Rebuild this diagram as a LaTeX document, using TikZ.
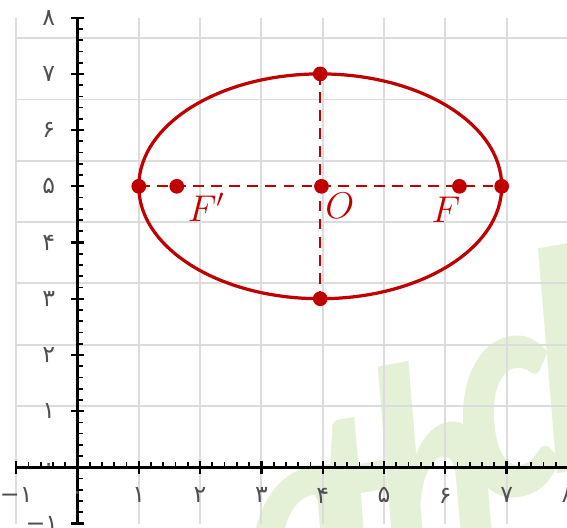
\documentclass[tikz,border=0pt]{standalone}
\usepackage{fontspec}
\usepackage{graphicx}
\newfontfamily\fa{DejaVu Sans}
\newfontfamily\wmfont{Lato}[BoldItalicFont={Lato Black Italic}]
\definecolor{ered}{RGB}{192,0,0}
\definecolor{wmc}{RGB}{229,241,214}
\definecolor{lblc}{RGB}{80,80,80}
\definecolor{gridc}{RGB}{220,220,220}
\tikzset{
  gridline/.style={gridc, line width=0.9pt},
  axisline/.style={black, line width=1.3pt},
  majortick/.style={black, line width=1.1pt},
  minortick/.style={black, line width=0.8pt},
  lab/.style={text=lblc, font=\fa\fontsize{11}{12}\selectfont, inner sep=0pt},
  ellline/.style={ered, line width=1.5pt},
  dashline/.style={ered, line width=1pt, dash pattern=on 5pt off 3.4pt},
  pdot/.style={circle, fill=ered, inner sep=0pt, minimum size=0.24cm},
  ptlab/.style={text=ered, font=\fontsize{17}{20}\selectfont, inner sep=0pt},
  wmletter/.style={rotate=10, anchor=south, text=wmc, inner sep=0pt},
}
\newcommand{\wml}[1]{\scalebox{0.75}[1]{\wmfont\bfseries\itshape\fontsize{140}{140}\selectfont #1}}
\begin{document}
\begin{tikzpicture}[x=1cm, y=0.9168cm]
\useasboundingbox (-1.264,-1.062) rectangle (7.985,8.315);
% watermark
\begin{scope}
\clip (-1.264,-1.062) rectangle (7.985,8.315);
\node[wmletter] (wma) at (3.96,-2.85) {\wml{a}};
\node[wmletter] (wmt) at (4.82,-2.75) {\wml{t}};
\node[wmletter] (wmh) at (6.14,-2.04) {\wml{h}};
\node[wmletter] (wmc) at (7.27,-0.53) {\wml{c}};
\node[wmletter] (wml) at (8.21,-0.05) {\wml{l}};
\end{scope}
% grid
\draw[gridline] (-1,-1) grid (8,8);
% axes
\draw[axisline] (-1,0) -- (8,0);
\draw[axisline] (0,-1) -- (0,8);
\foreach \i in {-5,...,40} {
  \draw[minortick] (\i/5,0) -- ++(0,0.09cm);
  \draw[minortick] (0,\i/5) -- ++(0.09cm,0);
}
\foreach \i in {-1,...,8} {
  \draw[majortick] (\i,0) ++(0,-0.11cm) -- ++(0,0.22cm);
  \draw[majortick] (0,\i) ++(-0.11cm,0) -- ++(0.22cm,0);
}
% x labels
\foreach \v/\t in {-1/−۱,0/۰,1/۱,2/۲,3/۳,4/۴,5/۵,6/۶,7/۷,8/۸} {
  \node[lab] (xl\v) at (\v,-0.5) {\t};
}
% y labels
\foreach \v/\t in {0/۰,1/۱,2/۲,3/۳,4/۴,5/۵,6/۶,7/۷,8/۸} {
  \node[lab] (yl\v) at (-0.47,\v) {\t};
}
\node[lab] (ylm1) at (-0.58,-1) {−۱};
% ellipse
\draw[ellline] (3.96,5) ellipse [x radius=2.96, y radius=2];
% key points
\coordinate (L) at (1.0,5);
\coordinate (R) at (6.92,5);
\coordinate (T) at (3.96,7);
\coordinate (B) at (3.96,3);
\coordinate (C) at (3.98,5);
\coordinate (Fp) at (1.62,5);
\coordinate (Fr) at (6.23,5);
\draw[dashline] (L) -- (R);
\draw[dashline] (T) -- (B);
\foreach \p in {L,R,T,B,C,Fp,Fr} {
  \node[pdot] (d\p) at (\p) {};
}
\node[ptlab] (lFp) at (2.10,4.63) {$F'$};
\node[ptlab] (lO) at (4.28,4.66) {$O$};
\node[ptlab] (lF) at (6.01,4.58) {$F$};
\end{tikzpicture}
\end{document}
